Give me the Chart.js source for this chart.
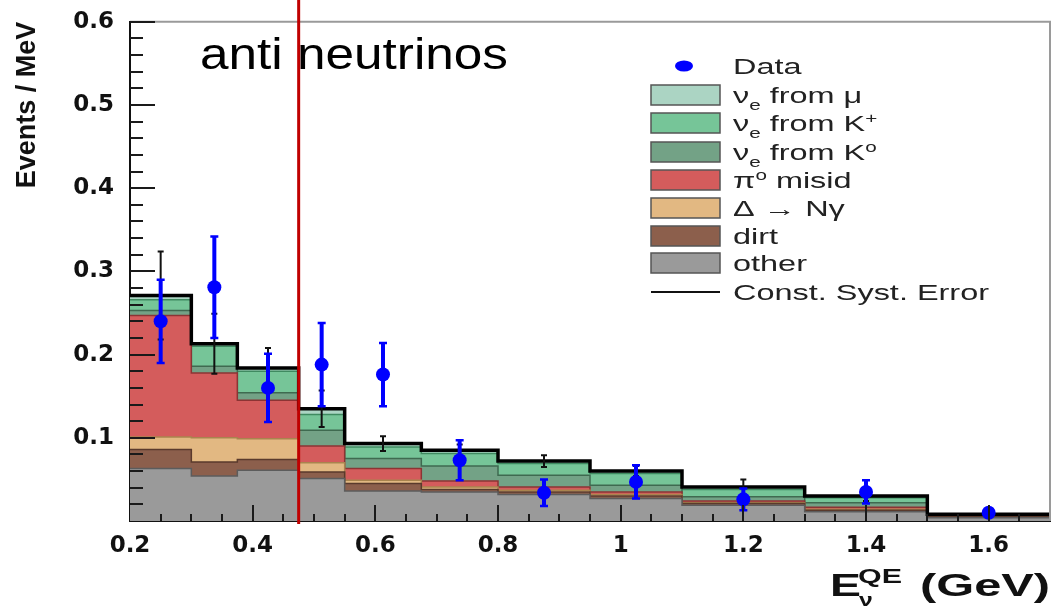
<!DOCTYPE html>
<html>
<head>
<meta charset="utf-8">
<script src="https://cdn.jsdelivr.net/npm/chart.js@4.4.1/dist/chart.umd.min.js"></script>
<style>
  html, body { margin: 0; padding: 0; background: #fff; }
</style>
</head>
<body>
<canvas id="c" width="1058" height="609"></canvas>
<script>
// bin edges (GeV), last bin runs off the plot
const binEdges = [0.2, 0.3, 0.375, 0.475, 0.55, 0.675, 0.8, 0.95, 1.1, 1.3, 1.5, 3.0];

// stacked backgrounds, events / MeV per bin (bottom to top)
const other = [0.063, 0.054, 0.061, 0.051, 0.036, 0.035, 0.032, 0.027, 0.019, 0.011, 0.004];
const dirt  = [0.023, 0.017, 0.013, 0.008, 0.009, 0.003, 0.003, 0.003, 0.002, 0.002, 0.001];
const deltaNg = [0.015, 0.029, 0.025, 0.011, 0.004, 0.003, 0.002, 0.002, 0.001, 0.001, 0.0005];
const pi0   = [0.146, 0.078, 0.046, 0.020, 0.014, 0.007, 0.004, 0.003, 0.002, 0.0025, 0.0005];
const k0    = [0.006, 0.008, 0.009, 0.019, 0.012, 0.018, 0.014, 0.008, 0.005, 0.0055, 0.001];
const kPlus = [0.013, 0.024, 0.026, 0.019, 0.014, 0.015, 0.014, 0.014, 0.009, 0.006, 0.0007];
const mu    = [0.005, 0.003, 0.004, 0.007, 0.004, 0.004, 0.003, 0.003, 0.003, 0.002, 0.0003];

// constant systematic error on the total prediction
const systErr = [0.053, 0.036, 0.024, 0.022, 0.009, 0.007, 0.007, 0.006, 0.009, 0.006, 0.003];

// data points
const dataX   = [0.25, 0.3375, 0.425, 0.5125, 0.6125, 0.7375, 0.875, 1.025, 1.2, 1.4, 1.6];
const dataY   = [0.240, 0.281, 0.160, 0.188, 0.176, 0.073, 0.034, 0.047, 0.026, 0.035, 0.010];
const dataErr = [0.050, 0.061, 0.041, 0.050, 0.038, 0.024, 0.016, 0.020, 0.013, 0.014, 0.005];

const xTicks = [0.2, 0.4, 0.6, 0.8, 1.0, 1.2, 1.4, 1.6];
const yTicks = [0.1, 0.2, 0.3, 0.4, 0.5, 0.6];
const cutEnergy = 0.475;

const components = [
  { label: 'other', vals: other,   fill: '#9a9a9a', line: '#5c5c5c' },
  { label: 'dirt',  vals: dirt,    fill: '#8c5f4c', line: '#5a3a2c' },
  { label: 'delta', vals: deltaNg, fill: '#e2b882', line: '#a9844e' },
  { label: 'pi0',   vals: pi0,     fill: '#d45c5c', line: '#8c3434' },
  { label: 'k0',    vals: k0,      fill: '#73a286', line: '#3f6a50' },
  { label: 'kplus', vals: kPlus,   fill: '#76c598', line: '#3f8a60' },
  { label: 'mu',    vals: mu,      fill: '#abd4c3', line: '#5f8f7c' }
];

function stepPoints(vals) {
  // one point per edge; the value holds until the next edge
  return binEdges.map((e, i) => ({ x: e, y: vals[Math.min(i, vals.length - 1)] }));
}

const totals = other.map((_, i) => components.reduce((s, c) => s + c.vals[i], 0));
const binCenters = binEdges.slice(0, -1).map((e, i) => i === binEdges.length - 2 ? 1.6 : (e + binEdges[i + 1]) / 2);

const datasets = components.map((c, i) => ({
  label: c.label,
  data: stepPoints(c.vals),
  stepped: true,
  backgroundColor: c.fill,
  borderColor: c.line,
  borderWidth: 1.5,
  pointRadius: 0,
  fill: i === 0 ? 'origin' : '-1',
  order: 2
}));
datasets.push({
  label: 'total',
  data: stepPoints(totals),
  stepped: true,
  stack: 'total',
  borderColor: '#000',
  borderWidth: 3.5,
  pointRadius: 0,
  fill: false,
  order: 1
});
const DATA_INDEX = datasets.length;
datasets.push({
  label: 'Data',
  data: dataX.map((x, i) => ({ x: x, y: dataY[i] })),
  stack: 'data',
  showLine: false,
  pointRadius: 7,
  pointBackgroundColor: '#0000ff',
  pointBorderWidth: 0,
  order: 0
});

const LEGEND_FONT = '22px "Liberation Sans", Arial, sans-serif';

function stretched(ctx, txt, x, y, sx) {
  ctx.save();
  ctx.translate(x, y);
  ctx.scale(sx, 1);
  ctx.fillText(txt, 0, 0);
  ctx.restore();
}

// pieces of rich text: [text, kind] kind = '', 'sub', 'sup'
function richText(ctx, parts, x, y, size, sx) {
  let cx = x;
  parts.forEach(p => {
    const small = p[1] !== '';
    const fs = small ? Math.round(size * 0.62) : size;
    ctx.font = fs + 'px "Liberation Sans", Arial, sans-serif';
    const dy = p[1] === 'sub' ? size * 0.32 : p[1] === 'sup' ? -size * 0.38 : 0;
    stretched(ctx, p[0], cx, y + dy, sx);
    cx += ctx.measureText(p[0]).width * sx;
  });
}

const errorBars = {
  id: 'errorBars',
  beforeDatasetDraw(chart, args) {
    if (args.index !== DATA_INDEX) return;
    const { ctx, chartArea, scales: { x, y } } = chart;
    ctx.save();
    ctx.beginPath();
    ctx.rect(chartArea.left, chartArea.top, chartArea.right - chartArea.left, chartArea.bottom - chartArea.top);
    ctx.clip();
    // systematic error bars on the prediction
    ctx.strokeStyle = '#111';
    ctx.lineWidth = 2;
    binCenters.forEach((c, i) => {
      const px = x.getPixelForValue(c);
      const lo = y.getPixelForValue(totals[i] - systErr[i]);
      const hi = y.getPixelForValue(totals[i] + systErr[i]);
      ctx.beginPath();
      ctx.moveTo(px, lo); ctx.lineTo(px, hi);
      ctx.moveTo(px - 3, lo); ctx.lineTo(px + 3, lo);
      ctx.moveTo(px - 3, hi); ctx.lineTo(px + 3, hi);
      ctx.stroke();
    });
    // data error bars
    ctx.strokeStyle = '#0000ff';
    dataX.forEach((d, i) => {
      const px = x.getPixelForValue(d);
      const lo = y.getPixelForValue(dataY[i] - dataErr[i]);
      const hi = y.getPixelForValue(dataY[i] + dataErr[i]);
      ctx.lineWidth = 4;
      ctx.beginPath();
      ctx.moveTo(px, lo); ctx.lineTo(px, hi);
      ctx.stroke();
      ctx.lineWidth = 2.5;
      ctx.beginPath();
      ctx.moveTo(px - 4, lo); ctx.lineTo(px + 4, lo);
      ctx.moveTo(px - 4, hi); ctx.lineTo(px + 4, hi);
      ctx.stroke();
    });
    ctx.restore();
  }
};

const decorations = {
  id: 'decorations',
  afterDraw(chart) {
    const { ctx, chartArea: a, scales: { x, y } } = chart;
    ctx.save();
    // grey frame top / right
    ctx.strokeStyle = '#9a9a9a';
    ctx.lineWidth = 2;
    ctx.beginPath();
    ctx.moveTo(a.left, a.top); ctx.lineTo(a.right, a.top); ctx.lineTo(a.right, a.bottom);
    ctx.stroke();
    // inward ticks
    ctx.strokeStyle = '#1a1a1a';
    ctx.lineWidth = 2;
    ctx.beginPath();
    for (let i = 1; i <= 30; i++) {
      const py = Math.round(y.getPixelForValue(i * 0.02));
      const len = i % 5 === 0 ? 25 : 13;
      ctx.moveTo(a.left, py); ctx.lineTo(a.left + len, py);
    }
    for (let i = 5; i <= 33; i++) {
      const px = Math.round(x.getPixelForValue(i * 0.05));
      const len = i % 4 === 0 ? 16 : 7;
      ctx.moveTo(px, a.bottom); ctx.lineTo(px, a.bottom - len);
    }
    ctx.stroke();

    // legend
    const rows = [66, 95, 123, 152, 180, 208, 236, 263, 292];
    ctx.font = LEGEND_FONT;
    const sx = 256 / ctx.measureText('Const. Syst. Error').width;
    ctx.fillStyle = '#0000ff';
    ctx.beginPath();
    ctx.ellipse(684, rows[0], 9, 5.5, 0, 0, Math.PI * 2);
    ctx.fill();
    const boxOrder = [6, 5, 4, 3, 2, 1, 0];
    boxOrder.forEach((ci, r) => {
      const yc = rows[r + 1];
      ctx.fillStyle = components[ci].fill;
      ctx.fillRect(651, yc - 10, 69, 20);
      ctx.strokeStyle = '#555';
      ctx.lineWidth = 1.5;
      ctx.strokeRect(651, yc - 10, 69, 20);
    });
    ctx.strokeStyle = '#111';
    ctx.lineWidth = 2;
    ctx.beginPath();
    ctx.moveTo(651, rows[8]); ctx.lineTo(720, rows[8]);
    ctx.stroke();

    ctx.fillStyle = '#222';
    ctx.textBaseline = 'alphabetic';
    const base = 8;
    const labels = [
      [['Data', '']],
      [['\u03bd', ''], ['e', 'sub'], [' from \u03bc', '']],
      [['\u03bd', ''], ['e', 'sub'], [' from K', ''], ['+', 'sup']],
      [['\u03bd', ''], ['e', 'sub'], [' from K', ''], ['o', 'sup']],
      [['\u03c0', ''], ['o', 'sup'], [' misid', '']],
      [['\u0394 \u2192 N\u03b3', '']],
      [['dirt', '']],
      [['other', '']],
      [['Const. Syst. Error', '']]
    ];
    labels.forEach((parts, r) => richText(ctx, parts, 733, rows[r] + base, 22, sx));

    // x axis title
    ctx.fillStyle = '#111';
    ctx.font = 'bold 32px "Liberation Sans", Arial, sans-serif';
    stretched(ctx, 'E', 830, 596, 1.45);
    stretched(ctx, '(GeV)', 920, 596, 130 / ctx.measureText('(GeV)').width);
    ctx.font = 'bold 20px "Liberation Sans", Arial, sans-serif';
    stretched(ctx, 'QE', 858, 583, 44 / ctx.measureText('QE').width);
    ctx.font = 'bold 19px "Liberation Sans", Arial, sans-serif';
    stretched(ctx, '\u03bd', 859, 606, 1.3);

    // annotation + cut line
    ctx.fillStyle = '#000';
    ctx.font = '44px "Liberation Sans", Arial, sans-serif';
    stretched(ctx, 'anti neutrinos', 200, 69, 308 / ctx.measureText('anti neutrinos').width);
    const cx = x.getPixelForValue(cutEnergy);
    ctx.strokeStyle = '#c00000';
    ctx.lineWidth = 3;
    ctx.beginPath();
    ctx.moveTo(cx, 0); ctx.lineTo(cx, a.bottom + 3);
    ctx.stroke();
    ctx.restore();
  }
};

const tickFont = { family: '"DejaVu Sans", sans-serif', size: 23, weight: 'bold' };

new Chart(document.getElementById('c'), {
  type: 'line',
  data: { datasets: datasets },
  plugins: [errorBars, decorations],
  options: {
    responsive: false,
    animation: false,
    devicePixelRatio: 1,
    layout: { padding: { top: 19, right: 8, left: 0, bottom: 0 } },
    plugins: { legend: { display: false }, tooltip: { enabled: false } },
    scales: {
      x: {
        type: 'linear',
        min: 0.2,
        max: 1.7,
        grid: { display: false },
        border: { display: true, color: '#111', width: 2 },
        afterBuildTicks: s => { s.ticks = xTicks.map(v => ({ value: v })); },
        ticks: {
          font: tickFont,
          color: '#111',
          padding: 3,
          maxRotation: 0,
          callback: v => String(+v.toFixed(1))
        },
        afterFit: s => { s.height = 88; }
      },
      y: {
        type: 'linear',
        stacked: true,
        min: 0,
        max: 0.6,
        grid: { display: false },
        border: { display: true, color: '#111', width: 2 },
        afterBuildTicks: s => { s.ticks = yTicks.map(v => ({ value: v })); },
        ticks: {
          font: tickFont,
          color: '#111',
          padding: 8,
          callback: v => v.toFixed(1)
        },
        title: {
          display: true,
          text: 'Events / MeV',
          align: 'end',
          color: '#111',
          font: { family: '"Liberation Sans", Arial, sans-serif', size: 27, weight: 'bold' },
          padding: { top: 11, bottom: 0 }
        },
        afterFit: s => { s.width = 130; }
      }
    }
  }
});
</script>
</body>
</html>
